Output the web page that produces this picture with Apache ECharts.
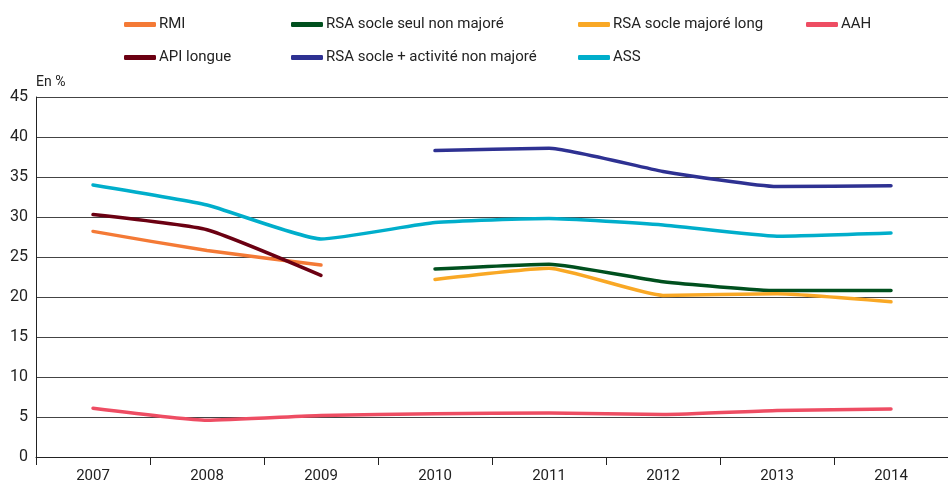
<!DOCTYPE html>
<html><head><meta charset="utf-8">
<script src="https://cdn.jsdelivr.net/npm/echarts@6/dist/echarts.min.js"></script>
<style>html,body{margin:0;padding:0;background:#fff}#c{width:948px;height:486px}</style>
</head><body><div id="c"></div>
<script>
var years = ['2007','2008','2009','2010','2011','2012','2013','2014'];
var yTicks = [0,5,10,15,20,25,30,35,40,45];
var rmi = [28.2,25.8,24.0,null,null,null,null,null];
var api = [30.3,28.4,22.7,null,null,null,null,null];
var rsaSeul = [null,null,null,23.5,24.1,21.9,20.8,20.8];
var rsaMajore = [null,null,null,22.2,23.6,20.2,20.4,19.4];
var rsaAct = [null,null,null,38.3,38.6,35.7,33.8,33.9];
var ass = [34.0,31.5,27.25,29.3,29.8,29.0,27.6,28.0];
var aah = [6.1,4.6,5.2,5.4,5.5,5.3,5.8,6.0];

var FONT = '"Liberation Sans Narrow","Roboto",sans-serif';
var chart = echarts.init(document.getElementById('c'));
function s(name, data, color){
  return {name:name,type:'line',data:data,smooth:0.15,symbol:'none',connectNulls:false,
    lineStyle:{width:3.5,color:color,cap:'round',join:'round'},itemStyle:{color:color}};
}
function lg(names, left){
  return {data:names,orient:'vertical',left:left,top:12,itemGap:18,itemWidth:32,itemHeight:5,
    icon:'roundRect',textStyle:{fontFamily:FONT,fontSize:15,color:'#222',padding:[0,0,0,-2]}};
}
chart.setOption({
  animation:false,
  textStyle:{fontFamily:FONT},
  legend:[lg(['RMI','API longue'],119), lg(['RSA socle seul non majoré','RSA socle + activité non majoré'],286),
          lg(['RSA socle majoré long','ASS'],573), lg(['AAH'],801)],
  graphic:[{type:'text',left:36,top:75,style:{text:'En %',fontFamily:FONT,fontSize:14,fill:'#222'}}],
  grid:{left:36,right:0,top:97,bottom:29,containLabel:false},
  xAxis:{type:'category',data:years,boundaryGap:true,
    axisLine:{lineStyle:{color:'#222',width:1}},
    axisTick:{show:true,length:8,lineStyle:{color:'#222'},alignWithLabel:false},
    axisLabel:{fontFamily:FONT,fontSize:15,color:'#222',margin:12}},
  yAxis:{type:'value',min:0,max:45,interval:5,
    axisLine:{show:true,lineStyle:{color:'#222'}},axisTick:{show:false},
    axisLabel:{fontFamily:FONT,fontSize:16,color:'#222',margin:8,
      formatter:function(v){return yTicks.indexOf(v)>=0?String(v):'';}},
    splitLine:{lineStyle:{color:'#444',width:1}}},
  series:[
    s('RMI',rmi,'#f47a36'),
    s('RSA socle seul non majoré',rsaSeul,'#00501e'),
    s('RSA socle majoré long',rsaMajore,'#f9a825'),
    s('AAH',aah,'#ee4d63'),
    s('API longue',api,'#6b0012'),
    s('RSA socle + activité non majoré',rsaAct,'#2e3192'),
    s('ASS',ass,'#00aecb')
  ]
});
</script></body></html>
